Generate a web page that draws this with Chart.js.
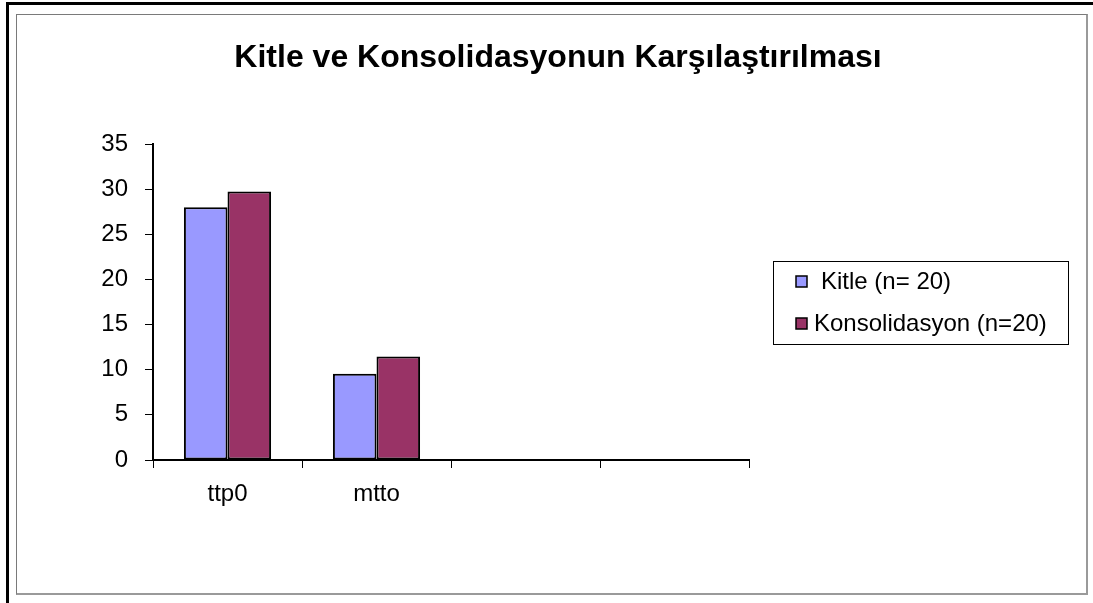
<!DOCTYPE html>
<html>
<head>
<meta charset="utf-8">
<script src="https://cdn.jsdelivr.net/npm/chart.js@4/dist/chart.umd.min.js"></script>
<style>
  html, body { margin: 0; padding: 0; background: #fff; }
  body { width: 1093px; height: 603px; position: relative; overflow: hidden; font-family: "Liberation Sans", Arial, sans-serif; }
  #outer { position: absolute; left: 6px; top: 2px; right: -10px; bottom: -10px; border-left: 3px solid #000; border-top: 3px solid #000; }
  #inner { position: absolute; left: 16px; top: 14px; width: 1069px; height: 578px; border: 1px solid #7a7a7a; border-right: 2px solid #9a9a9a; border-bottom: 2px solid #9a9a9a; }
  #chart { position: absolute; left: 0; top: 0; }
</style>
</head>
<body>
<div id="outer"></div>
<div id="inner"></div>
<canvas id="chart" width="1093" height="603"></canvas>
<script>
// chart data
const categories = ['ttp0', 'mtto', '', ''];
const kitle = [28, 9.55, null, null];
const konsolidasyon = [29.75, 11.45, null, null];
const seriesNames = ['Kitle (n= 20)', 'Konsolidasyon (n=20)'];
const titleText = 'Kitle ve Konsolidasyonun Karşılaştırılması';

const FONT = '"Liberation Sans", Arial, sans-serif';

// excel style legend with a frame round it
const boxLegend = {
  id: 'boxLegend',
  afterDraw(chart) {
    const ctx = chart.ctx;
    ctx.save();
    ctx.strokeStyle = '#000';
    ctx.lineWidth = 1;
    ctx.strokeRect(773.5, 261.5, 295, 83);
    ctx.font = '24px ' + FONT;
    ctx.textBaseline = 'middle';
    const rows = [{y: 281, tx: 821}, {y: 323, tx: 814}];
    chart.data.datasets.forEach((ds, i) => {
      const r = rows[i];
      ctx.fillStyle = ds.backgroundColor;
      ctx.fillRect(796, r.y - 5, 11, 11);
      ctx.strokeStyle = '#000';
      ctx.lineWidth = 1.5;
      ctx.strokeRect(796, r.y - 5, 11, 11);
      ctx.fillStyle = '#000';
      ctx.fillText(ds.label, r.tx, r.y + 1);
    });
    ctx.restore();
  }
};

const ctx = document.getElementById('chart').getContext('2d');

new Chart(ctx, {
  type: 'bar',
  data: {
    labels: categories,
    datasets: [
      {
        label: seriesNames[0],
        data: kitle,
        backgroundColor: '#9999ff',
        borderColor: '#000',
        borderWidth: 2,
        borderSkipped: false,
        categoryPercentage: 0.585,
        barPercentage: 1.0
      },
      {
        label: seriesNames[1],
        data: konsolidasyon,
        backgroundColor: '#993366',
        borderColor: '#000',
        borderWidth: 2,
        borderSkipped: false,
        categoryPercentage: 0.585,
        barPercentage: 1.0
      }
    ]
  },
  options: {
    responsive: false,
    animation: false,
    layout: { padding: { left: 23, right: 0, top: 0, bottom: 0 } },
    plugins: {
      legend: { display: false },
      tooltip: { enabled: false },
      title: {
        display: true,
        text: titleText,
        color: '#000',
        font: { family: FONT, size: 32, weight: 'bold', lineHeight: 1.2 },
        padding: { top: 39, bottom: 66.6 }
      }
    },
    scales: {
      x: {
        afterFit(scale) { scale.height = 143; },
        grid: { display: true, drawOnChartArea: false, drawTicks: true, tickLength: 8, color: '#000', lineWidth: 1, offset: true },
        border: { display: true, color: '#000', width: 2 },
        ticks: { color: '#000', padding: 12, font: { family: FONT, size: 24 } }
      },
      y: {
        min: 0,
        max: 35,
        afterFit(scale) { scale.width = 130; },
        grid: { display: true, drawOnChartArea: false, drawTicks: true, tickLength: 8, color: '#000', lineWidth: 1 },
        border: { display: true, color: '#000', width: 2 },
        ticks: { stepSize: 5, color: '#000', padding: 17, font: { family: FONT, size: 24 } }
      },
      // empty right side that keeps room for the legend box
      side: {
        type: 'linear',
        position: 'right',
        display: true,
        afterFit(scale) { scale.width = 344; },
        grid: { display: false },
        border: { display: false },
        ticks: { display: false }
      }
    }
  },
  plugins: [boxLegend]
});
</script>
</body>
</html>
